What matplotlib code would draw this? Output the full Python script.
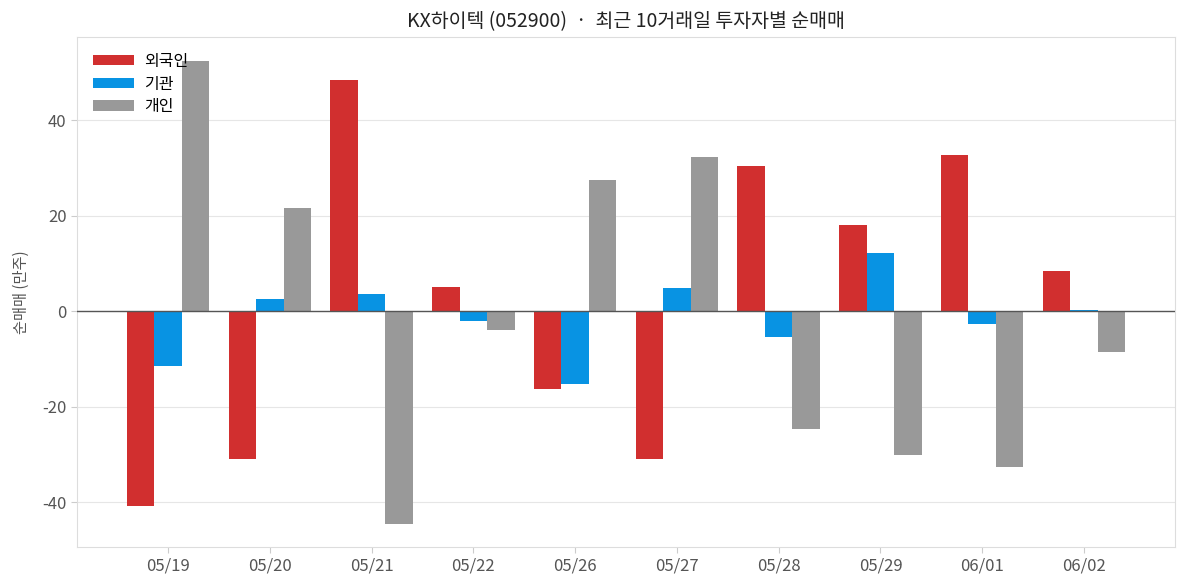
import numpy as np
import matplotlib
matplotlib.use("Agg")
import matplotlib.pyplot as plt

plt.rcParams['font.family'] = ['Noto Sans CJK KR', 'DejaVu Sans']
plt.rcParams['axes.unicode_minus'] = False

dates = ['05/19', '05/20', '05/21', '05/22', '05/26', '05/27', '05/28', '05/29', '06/01', '06/02']
foreign = [-40.8, -31.0, 48.4, 5.0, -16.3, -31.0, 30.4, 18.0, 32.7, 8.4]
institution = [-11.5, 2.5, 3.6, -2.1, -15.3, 4.8, -5.4, 12.1, -2.7, 0.2]
individual = [52.4, 21.6, -44.6, -4.0, 27.4, 32.3, -24.7, -30.2, -32.7, -8.6]

fig = plt.figure(figsize=(11.87, 5.87), dpi=100)
ax = fig.add_axes([77 / 1187, 40 / 587, 1098 / 1187, 510 / 587])

x = np.arange(len(dates))
w = 0.27
ax.bar(x - w, foreign, w, color='#d12f2f', label='외국인', zorder=3)
ax.bar(x, institution, w, color='#0893e3', label='기관', zorder=3)
ax.bar(x + w, individual, w, color='#999999', label='개인', zorder=3)

ax.axhline(0, color='#555555', lw=1, zorder=4)
ax.set_xlim(-0.894, 9.894)
ax.set_ylim(-49.4, 57.4)
ax.set_xticks(x)
ax.set_xticklabels(dates)
ax.set_yticks([-40, -20, 0, 20, 40])
ax.grid(axis='y', color='#e6e6e6', lw=0.8, zorder=0)
for s in ax.spines.values():
    s.set_color('#dddddd')
ax.tick_params(axis='x', colors='#cccccc', labelcolor='#555555', labelsize=12, length=4)
ax.tick_params(axis='y', colors='#cccccc', labelcolor='#555555', labelsize=12, length=4)
ax.set_ylabel('순매매 (만주)', fontsize=11, color='#555555', labelpad=9)
ax.set_title('KX하이텍 (052900)  ·  최근 10거래일 투자자별 순매매', fontsize=14, color='#222222', pad=7)
ax.legend(loc='upper left', frameon=False, fontsize=11.5, handlelength=2.6, handleheight=0.6,
          labelspacing=0.35, borderaxespad=0.6, handletextpad=0.6)

fig.savefig('out.png', dpi=100)
